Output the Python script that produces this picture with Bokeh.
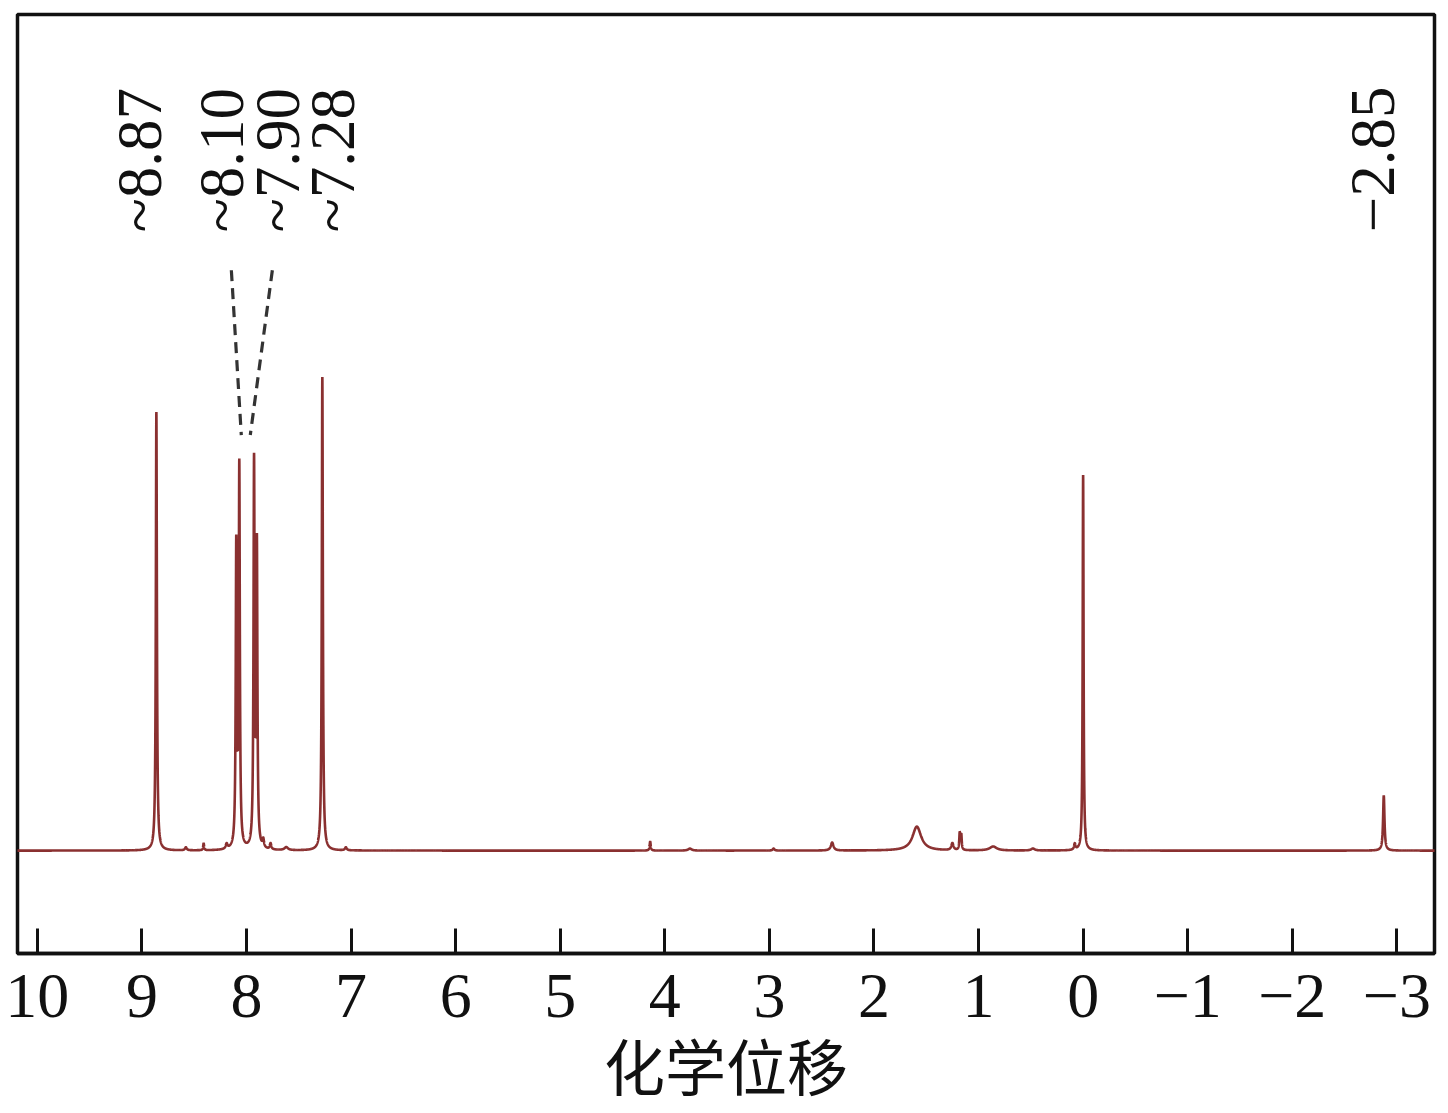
import numpy as np
from bokeh.plotting import figure
from bokeh.models import Range1d, FixedTicker, ColumnDataSource
from bokeh.core.properties import value
from bokeh.embed import file_html
from bokeh.resources import INLINE

# ---- data ----
# peaks: chemical shift (ppm), intensity (a.u.), half width (ppm)
peak_ppm = [8.862, 8.098, 8.069, 7.928, 7.901, 7.275, 0.000, -2.875,
            8.58, 8.41, 8.19, 7.84, 7.77, 7.62, 7.05, 4.14, 3.76, 2.96,
            2.40, 1.59, 1.25, 1.180, 1.165, 0.86, 0.48, 0.08]
peak_height = [439, 300, 379, 383, 299, 474, 376, 55,
               3, 7, 5, 8, 6, 3, 3, 9, 2, 2,
               8, 24, 7, 17, 15, 4, 2, 6]
peak_hw = [0.006, 0.006, 0.006, 0.006, 0.006, 0.006, 0.005, 0.008,
           0.01, 0.005, 0.01, 0.008, 0.008, 0.02, 0.01, 0.006, 0.02, 0.01,
           0.015, 0.05, 0.012, 0.005, 0.005, 0.04, 0.02, 0.008]

tick_values = [10, 9, 8, 7, 6, 5, 4, 3, 2, 1, 0, -1, -2, -3]
tick_labels = ["10", "9", "8", "7", "6", "5", "4", "3", "2", "1", "0",
               "\u22121", "\u22122", "\u22123"]

label_texts = ["~8.87", "~8.10", "~7.90", "~7.28", "\u22122.85"]
label_ppm = [9.020, 8.234, 7.696, 7.170, -2.772]
label_base = [619, 619, 619, 619, 619]

conn_x0 = [8.145, 7.753]
conn_y0 = [581, 581]
conn_x1 = [8.050, 7.964]
conn_y1 = [416, 416]

x_title = "化学位移"

# ---- spectrum curve from the peak list ----
ppm = np.arange(-3.40, 10.25, 0.0005)
inten = np.zeros_like(ppm)
for c, h, w in zip(peak_ppm, peak_height, peak_hw):
    inten += h * w * w / ((ppm - c) ** 2 + w * w)
src = ColumnDataSource(dict(x=ppm, y=inten))

p = figure(width=1440, height=1112, output_backend="svg", toolbar_location=None,
           x_range=Range1d(10.19, -3.36), y_range=Range1d(-103, 837),
           min_border_left=17, min_border_right=6, min_border_top=14,
           min_border_bottom=159)

p.line("x", "y", source=src, line_color="#8a3030", line_width=2.6)

p.segment(x0=conn_x0, y0=conn_y0, x1=conn_x1, y1=conn_y1,
          line_color="#333333", line_width=3.2, line_dash="11 7")

p.text(x=label_ppm, y=label_base, text=label_texts, angle=np.pi / 2,
       text_align="left", text_baseline="middle",
       text_font=value("Liberation Serif"), text_font_size="63px",
       text_color="#111111")

p.grid.visible = False
p.yaxis.visible = False
p.outline_line_color = "#111111"
p.outline_line_width = 3.5
p.outline_line_alpha = 1

ax = p.xaxis[0]
ax.ticker = FixedTicker(ticks=tick_values)
ax.major_label_overrides = {v: t for v, t in zip(tick_values, tick_labels)}
ax.minor_tick_line_color = None
ax.major_tick_in = 25
ax.major_tick_out = 0
ax.major_tick_line_width = 3
ax.major_tick_line_color = "#111111"
ax.axis_line_width = 3.5
ax.axis_line_color = "#111111"
ax.major_label_text_font = "Liberation Serif"
ax.major_label_text_font_size = "64px"
ax.major_label_text_color = "#111111"
ax.major_label_standoff = 21
ax.axis_label = x_title
ax.axis_label_text_font = "Noto Sans CJK SC"
ax.axis_label_text_font_size = "61px"
ax.axis_label_text_font_style = "normal"
ax.axis_label_text_color = "#111111"
ax.axis_label_standoff = 0

open("out.html", "w").write(file_html(p, INLINE))
